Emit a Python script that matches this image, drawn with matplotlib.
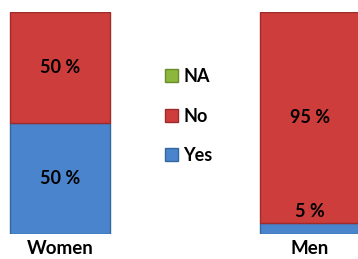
import matplotlib
matplotlib.use("Agg")
import matplotlib.pyplot as plt
from matplotlib.patches import Patch

categories = ["Women", "Men"]
yes = [50, 5]
no = [50, 95]
na = [0, 0]

plt.rcParams['font.family'] = ['Lato', 'DejaVu Sans']

W, H = 358, 259
fig = plt.figure(figsize=(W / 100, H / 100), dpi=100)
ax = fig.add_axes([0, 25 / H, 1, 222 / H])

x = [0, 1]
width = 0.4
c_yes, c_no, c_na = "#4a84cc", "#cc3d3b", "#8db63c"
e_yes, e_no, e_na = "#35679f", "#9e2c2a", "#6a8c2a"

b1 = ax.bar(x, yes, width, color=c_yes, edgecolor=e_yes, linewidth=1)
b2 = ax.bar(x, no, width, bottom=yes, color=c_no, edgecolor=e_no, linewidth=1)
b3 = ax.bar(x, na, width, bottom=[a + b for a, b in zip(yes, no)], color=c_na, edgecolor=e_na, linewidth=0)

for i in range(len(categories)):
    for val, bot in ((yes[i], 0), (no[i], yes[i])):
        if val <= 0:
            continue
        if val < 10:
            y = bot + val + 5
        else:
            y = bot + val / 2
        ax.text(x[i], y, f"{val} %", ha="center", va="center",
                fontsize=13, fontweight="bold", color="black")

ax.set_xlim(-0.24, 1.192)
ax.set_ylim(0, 100)
ax.set_xticks(x)
ax.set_xticklabels(categories, fontsize=13.5, fontweight="bold")
ax.tick_params(axis="x", length=0, pad=4)
ax.set_yticks([])
for s in ax.spines.values():
    s.set_visible(False)
ax.patch.set_alpha(0)

handles = [Patch(facecolor=c_na, edgecolor=e_na),
           Patch(facecolor=c_no, edgecolor=e_no),
           Patch(facecolor=c_yes, edgecolor=e_yes)]
fig.legend(handles, ["NA", "No", "Yes"], loc="center left",
           bbox_to_anchor=(152 / W, 1 - 116 / H), frameon=False,
           prop={"size": 13, "weight": "bold"}, labelspacing=1.25,
           handlelength=0.75, handleheight=0.75, handletextpad=0.3,
           borderpad=0.2)

fig.savefig("out.png", dpi=100)
